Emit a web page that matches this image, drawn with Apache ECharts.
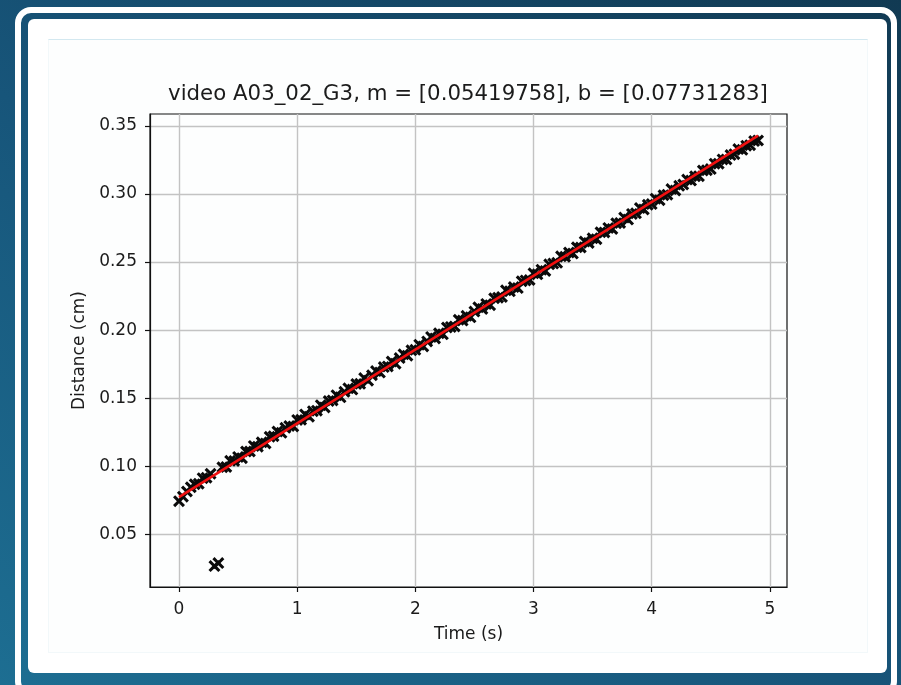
<!DOCTYPE html>
<html>
<head>
<meta charset="utf-8">
<script src="https://cdn.jsdelivr.net/npm/echarts@6/dist/echarts.min.js"></script>
<style>
  html, body { margin: 0; padding: 0; }
  #page {
    position: relative; width: 901px; height: 685px; overflow: hidden;
    background: linear-gradient(35deg, #1d6e92 0%, #17557a 45%, #113a53 100%);
  }
  .ring {
    position: absolute; left: 15px; top: 7px; width: 882px; height: 690px;
    box-sizing: border-box; border: 6px solid #ffffff; border-radius: 16px;
  }
  .panel {
    position: absolute; left: 28px; top: 19px; width: 859px; height: 654px;
    background: #ffffff; border-radius: 6px;
  }
  .fig {
    position: absolute; left: 48px; top: 39px; width: 820px; height: 614px;
    box-sizing: border-box; background: #fdfefe;
    border: 1px solid #f2f8fa; border-top: 1px solid #d3e8f0;
  }
  #chart { position: absolute; left: 0; top: 0; width: 901px; height: 685px; }
</style>
</head>
<body>
<div id="page">
  <div class="ring"></div>
  <div class="panel"></div>
  <div class="fig"></div>
  <div id="chart"></div>
</div>
<script>
// Tracked position of the object per video frame
const timeSec = [
  0, 0.033, 0.067, 0.1, 0.133, 0.167, 0.2, 0.233, 0.267, 0.3,
  0.333, 0.367, 0.4, 0.433, 0.467, 0.5, 0.533, 0.567, 0.6, 0.633,
  0.667, 0.7, 0.733, 0.767, 0.8, 0.833, 0.867, 0.9, 0.933, 0.967,
  1.0, 1.033, 1.067, 1.1, 1.133, 1.167, 1.2, 1.233, 1.267, 1.3,
  1.333, 1.367, 1.4, 1.433, 1.467, 1.5, 1.533, 1.567, 1.6, 1.633,
  1.667, 1.7, 1.733, 1.767, 1.8, 1.833, 1.867, 1.9, 1.933, 1.967,
  2.0, 2.033, 2.067, 2.1, 2.133, 2.167, 2.2, 2.233, 2.267, 2.3,
  2.333, 2.367, 2.4, 2.433, 2.467, 2.5, 2.533, 2.567, 2.6, 2.633,
  2.667, 2.7, 2.733, 2.767, 2.8, 2.833, 2.867, 2.9, 2.933, 2.967,
  3.0, 3.033, 3.067, 3.1, 3.133, 3.167, 3.2, 3.233, 3.267, 3.3,
  3.333, 3.367, 3.4, 3.433, 3.467, 3.5, 3.533, 3.567, 3.6, 3.633,
  3.667, 3.7, 3.733, 3.767, 3.8, 3.833, 3.867, 3.9, 3.933, 3.967,
  4.0, 4.033, 4.067, 4.1, 4.133, 4.167, 4.2, 4.233, 4.267, 4.3,
  4.333, 4.367, 4.4, 4.433, 4.467, 4.5, 4.533, 4.567, 4.6, 4.633,
  4.667, 4.7, 4.733, 4.767, 4.8, 4.833, 4.867, 4.9
];
const distanceCm = [
  0.0743, 0.0776, 0.0814, 0.0845, 0.0867, 0.0871, 0.0912, 0.0915, 0.0944, 0.0266,
  0.0288, 0.0992, 0.0994, 0.1039, 0.1038, 0.1068, 0.1059, 0.1108, 0.1108, 0.1149,
  0.1143, 0.1175, 0.1167, 0.1216, 0.1220, 0.1255, 0.1245, 0.1282, 0.1295, 0.1292,
  0.1340, 0.1341, 0.1380, 0.1363, 0.1404, 0.1408, 0.1448, 0.1432, 0.1479, 0.1483,
  0.1522, 0.1506, 0.1546, 0.1572, 0.1563, 0.1604, 0.1605, 0.1647, 0.1628, 0.1668,
  0.1699, 0.1688, 0.1728, 0.1733, 0.1769, 0.1753, 0.1794, 0.1822, 0.1812, 0.1851,
  0.1855, 0.1893, 0.1880, 0.1917, 0.1950, 0.1939, 0.1977, 0.1969, 0.2019, 0.2023,
  0.2027, 0.2076, 0.2070, 0.2105, 0.2094, 0.2136, 0.2168, 0.2155, 0.2192, 0.2183,
  0.2234, 0.2238, 0.2243, 0.2292, 0.2285, 0.2316, 0.2309, 0.2359, 0.2365, 0.2368,
  0.2417, 0.2410, 0.2444, 0.2434, 0.2483, 0.2489, 0.2494, 0.2542, 0.2539, 0.2570,
  0.2562, 0.2609, 0.2607, 0.2651, 0.2640, 0.2674, 0.2668, 0.2719, 0.2718, 0.2751,
  0.2743, 0.2785, 0.2787, 0.2827, 0.2812, 0.2854, 0.2858, 0.2897, 0.2886, 0.2921,
  0.2926, 0.2966, 0.2955, 0.2991, 0.2995, 0.3036, 0.3026, 0.3060, 0.3070, 0.3106,
  0.3099, 0.3130, 0.3131, 0.3173, 0.3175, 0.3183, 0.3223, 0.3223, 0.3254, 0.3254,
  0.3286, 0.3293, 0.3330, 0.3325, 0.3355, 0.3359, 0.3389, 0.3393
];

// Least-squares fit shown in the title
const fitSlope = 0.05419758;
const fitIntercept = 0.07731283;
const fitRange = [0, 4.9];

const xTicks = [0, 1, 2, 3, 4, 5];
const yTicks = [0.05, 0.10, 0.15, 0.20, 0.25, 0.30, 0.35];
const titleText = 'video A03_02_G3, m = [' + fitSlope.toFixed(8) + '], b = [' + fitIntercept.toFixed(8) + ']';

const points = timeSec.map((t, i) => [t, distanceCm[i]]);
const fitLine = fitRange.map(t => [t, fitSlope * t + fitIntercept]);

const FONT = 'DejaVu Sans';
const TEXT = '#1b1b1b';
// "x" marker drawn as a filled outline
const crossPath = 'path://M0,1.8L1.8,0L5,3.2L8.2,0L10,1.8L6.8,5L10,8.2L8.2,10L5,6.8L1.8,10L0,8.2L3.2,5Z';

const chart = echarts.init(document.getElementById('chart'), null, { renderer: 'canvas' });
chart.setOption({
  backgroundColor: 'transparent',
  animation: false,
  graphic: [{
    type: 'text',
    x: 468, y: 94,
    style: {
      text: titleText, fill: TEXT, fontFamily: FONT, fontSize: 21.3,
      align: 'center', verticalAlign: 'middle'
    }
  }],
  grid: {
    left: 150, top: 114, width: 637, height: 473,
    show: true, borderColor: '#111', borderWidth: 1.2, backgroundColor: 'transparent'
  },
  xAxis: {
    type: 'value', min: -0.2455, max: 5.145,
    name: 'Time (s)', nameLocation: 'middle', nameGap: 39,
    nameTextStyle: { color: TEXT, fontFamily: FONT, fontSize: 17 },
    axisLine: { show: true, onZero: false, lineStyle: { color: '#111', width: 1.2 } },
    axisTick: { show: true, inside: false, length: 5, customValues: xTicks, lineStyle: { color: '#111', width: 1.2 } },
    axisLabel: { customValues: xTicks, margin: 14, color: TEXT, fontFamily: FONT, fontSize: 17 },
    splitLine: { show: true, lineStyle: { color: '#c3c3c3', width: 1.4 } }
  },
  yAxis: {
    type: 'value', min: 0.0112, max: 0.3588,
    name: 'Distance (cm)', nameLocation: 'middle', nameGap: 61,
    nameTextStyle: { color: TEXT, fontFamily: FONT, fontSize: 17 },
    axisLine: { show: true, onZero: false, lineStyle: { color: '#111', width: 1.2 } },
    axisTick: { show: true, inside: false, length: 5, customValues: yTicks, lineStyle: { color: '#111', width: 1.2 } },
    axisLabel: {
      customValues: yTicks, margin: 13, color: TEXT, fontFamily: FONT, fontSize: 17,
      formatter: v => v.toFixed(2)
    },
    splitLine: { show: true, lineStyle: { color: '#c3c3c3', width: 1.4 } }
  },
  series: [
    {
      type: 'scatter',
      data: points,
      symbol: crossPath,
      symbolSize: 12,
      itemStyle: { color: '#0a0a0a', opacity: 1 },
      z: 3
    },
    {
      type: 'line',
      data: fitLine,
      symbol: 'none',
      lineStyle: { color: '#f01010', width: 2.6 },
      z: 4
    }
  ]
});
</script>
</body>
</html>
